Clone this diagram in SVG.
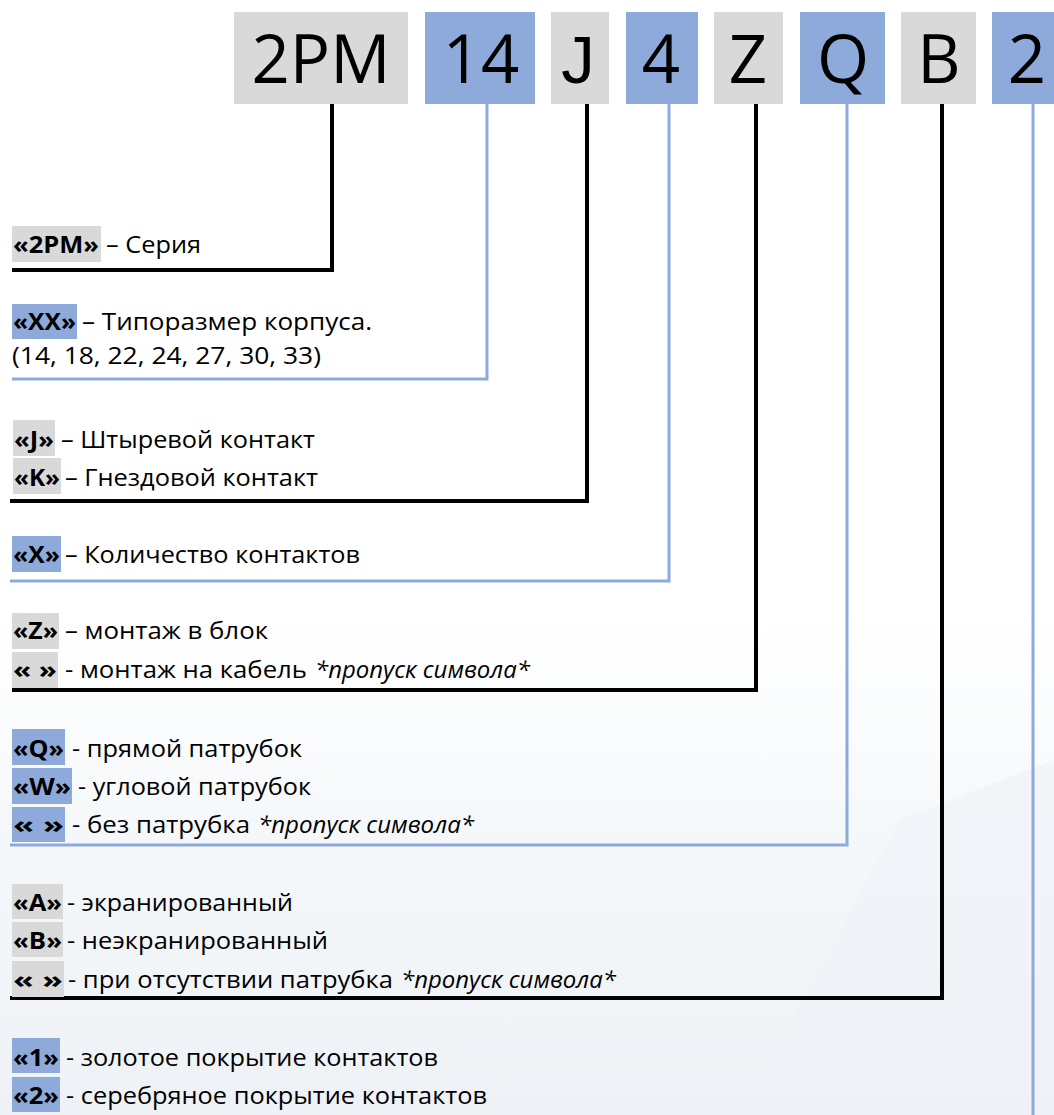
<svg xmlns="http://www.w3.org/2000/svg" width="1054" height="1115" viewBox="0 0 1054 1115">
<defs>
<linearGradient id="bg" x1="0" y1="0" x2="0" y2="1">
<stop offset="0" stop-color="#ffffff"/>
<stop offset="0.55" stop-color="#ffffff"/>
<stop offset="0.75" stop-color="#f5f8fa"/>
<stop offset="1" stop-color="#eef2f6"/>
</linearGradient>
<style>
.g{fill:#d9d9d9}
.b{fill:#8eaadb}
.code{font-family:"Open Sans","Liberation Sans",sans-serif;font-size:67px;fill:#000;text-anchor:middle}
.cj{font-family:"Liberation Sans",sans-serif}
.t{font-family:"Open Sans","Liberation Sans",sans-serif;font-size:23px;fill:#000}
.p{font-weight:bold}
.i{font-style:italic}
.lk{fill:none;stroke:#000;stroke-width:4}
.lb{fill:none;stroke:#8eaadb;stroke-width:3}
</style>
</defs>
<rect x="0" y="0" width="1054" height="1115" fill="url(#bg)"/>
<polygon points="740,1115 900,820 1054,760 1054,1115" fill="#eef1f6" opacity="0.6"/>

<g id="connectors">
<path class="lk" d="M332,104 V270 H12"/>
<path class="lb" d="M487,104 V379 H12"/>
<path class="lk" d="M587,104 V501 H10"/>
<path class="lb" d="M669,104 V581 H10"/>
<path class="lk" d="M756,104 V690 H12"/>
<path class="lb" d="M847,104 V845 H10"/>
<path class="lk" d="M942,104 V998 H10"/>
<path class="lb" d="M1033,104 V1115"/>
</g>

<g id="code-2PM"><rect class="g" x="234" y="12" width="174" height="92"/><text class="code" x="321" y="83">2PM</text></g>
<g id="code-14"><rect class="b" x="425" y="12" width="110" height="92"/><text class="code" x="481" y="83">14</text></g>
<g id="code-J"><rect class="g" x="551" y="12" width="58" height="92"/><text class="code cj" x="578" y="83">J</text></g>
<g id="code-4"><rect class="b" x="626" y="12" width="72" height="92"/><text class="code" x="661" y="83">4</text></g>
<g id="code-Z"><rect class="g" x="714" y="12" width="69" height="92"/><text class="code" x="748" y="83">Z</text></g>
<g id="code-Q"><rect class="b" x="800" y="12" width="85" height="92"/><text class="code" x="843" y="83">Q</text></g>
<g id="code-B"><rect class="g" x="901" y="12" width="75" height="92"/><text class="code" x="939" y="83">B</text></g>
<g id="code-2"><rect class="b" x="992" y="12" width="70" height="92"/><text class="code" x="1027" y="83">2</text></g>

<g id="desc-series">
<rect class="g" x="12" y="226" width="89" height="36"/>
<text class="t p" x="13" y="253" textLength="86" lengthAdjust="spacingAndGlyphs">«2PM»</text>
<text class="t" x="106" y="253" textLength="95" lengthAdjust="spacingAndGlyphs">– Серия</text>
</g>

<g id="desc-size">
<rect class="b" x="12" y="304" width="65" height="35"/>
<text class="t p" x="13" y="330" textLength="63" lengthAdjust="spacingAndGlyphs">«XX»</text>
<text class="t" x="82" y="330" textLength="290" lengthAdjust="spacingAndGlyphs">– Типоразмер корпуса.</text>
<text class="t" x="12" y="364" textLength="309" lengthAdjust="spacingAndGlyphs">(14, 18, 22, 24, 27, 30, 33)</text>
</g>

<g id="desc-contact">
<rect class="g" x="13" y="420" width="42" height="36"/>
<text class="t p" x="14" y="448" textLength="40" lengthAdjust="spacingAndGlyphs">«J»</text>
<text class="t" x="61" y="448" textLength="254" lengthAdjust="spacingAndGlyphs">– Штыревой контакт</text>
<rect class="g" x="13" y="458" width="48" height="36"/>
<text class="t p" x="14" y="486" textLength="46" lengthAdjust="spacingAndGlyphs">«K»</text>
<text class="t" x="65" y="486" textLength="253" lengthAdjust="spacingAndGlyphs">– Гнездовой контакт</text>
</g>

<g id="desc-count">
<rect class="b" x="12" y="536" width="49" height="36"/>
<text class="t p" x="13" y="563" textLength="47" lengthAdjust="spacingAndGlyphs">«X»</text>
<text class="t" x="65" y="563" textLength="295" lengthAdjust="spacingAndGlyphs">– Количество контактов</text>
</g>

<g id="desc-mount">
<rect class="g" x="12" y="613" width="47" height="36"/>
<text class="t p" x="13" y="639" textLength="45" lengthAdjust="spacingAndGlyphs">«Z»</text>
<text class="t" x="65" y="639" textLength="203" lengthAdjust="spacingAndGlyphs">– монтаж в блок</text>
<rect class="g" x="12" y="652" width="46" height="36"/>
<text class="t p" x="13" y="678" textLength="44" lengthAdjust="spacingAndGlyphs">«  »</text>
<text class="t" x="65" y="678" textLength="242" lengthAdjust="spacingAndGlyphs">- монтаж на кабель</text>
<text class="t i" x="315" y="678" textLength="215" lengthAdjust="spacingAndGlyphs">*пропуск символа*</text>
</g>

<g id="desc-nozzle">
<rect class="b" x="12" y="729" width="53" height="36"/>
<text class="t p" x="13" y="757" textLength="51" lengthAdjust="spacingAndGlyphs">«Q»</text>
<text class="t" x="72" y="757" textLength="230" lengthAdjust="spacingAndGlyphs">- прямой патрубок</text>
<rect class="b" x="12" y="768" width="60" height="36"/>
<text class="t p" x="13" y="795" textLength="58" lengthAdjust="spacingAndGlyphs">«W»</text>
<text class="t" x="78" y="795" textLength="233" lengthAdjust="spacingAndGlyphs">- угловой патрубок</text>
<rect class="b" x="12" y="807" width="53" height="35"/>
<text class="t p" x="13" y="833" textLength="51" lengthAdjust="spacingAndGlyphs">«  »</text>
<text class="t" x="72" y="833" textLength="178" lengthAdjust="spacingAndGlyphs">- без патрубка</text>
<text class="t i" x="258" y="833" textLength="216" lengthAdjust="spacingAndGlyphs">*пропуск символа*</text>
</g>

<g id="desc-shield">
<rect class="g" x="12" y="884" width="51" height="35"/>
<text class="t p" x="13" y="911" textLength="49" lengthAdjust="spacingAndGlyphs">«A»</text>
<text class="t" x="67" y="911" textLength="226" lengthAdjust="spacingAndGlyphs">- экранированный</text>
<rect class="g" x="12" y="922" width="51" height="35"/>
<text class="t p" x="13" y="949" textLength="49" lengthAdjust="spacingAndGlyphs">«B»</text>
<text class="t" x="67" y="949" textLength="261" lengthAdjust="spacingAndGlyphs">- неэкранированный</text>
<rect class="g" x="12" y="961" width="52" height="36"/>
<text class="t p" x="13" y="988" textLength="50" lengthAdjust="spacingAndGlyphs">«  »</text>
<text class="t" x="68" y="988" textLength="325" lengthAdjust="spacingAndGlyphs">- при отсутствии патрубка</text>
<text class="t i" x="401" y="988" textLength="215" lengthAdjust="spacingAndGlyphs">*пропуск символа*</text>
</g>

<g id="desc-plating">
<rect class="b" x="12" y="1038" width="48" height="35"/>
<text class="t p" x="13" y="1066" textLength="46" lengthAdjust="spacingAndGlyphs">«1»</text>
<text class="t" x="66" y="1066" textLength="372" lengthAdjust="spacingAndGlyphs">- золотое покрытие контактов</text>
<rect class="b" x="12" y="1077" width="48" height="35"/>
<text class="t p" x="13" y="1104" textLength="46" lengthAdjust="spacingAndGlyphs">«2»</text>
<text class="t" x="66" y="1104" textLength="421" lengthAdjust="spacingAndGlyphs">- серебряное покрытие контактов</text>
</g>
</svg>
